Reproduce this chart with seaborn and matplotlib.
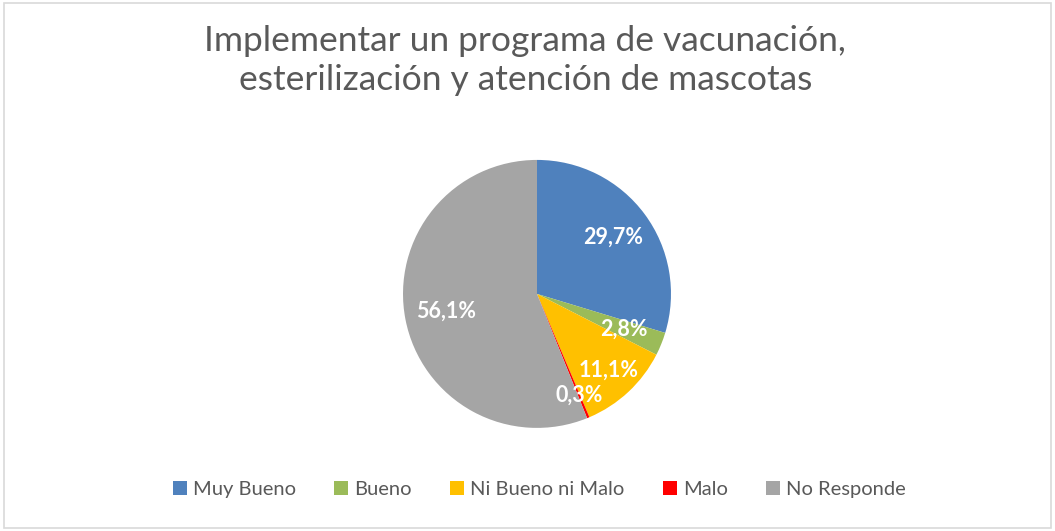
import matplotlib
matplotlib.use("Agg")
import matplotlib.pyplot as plt
import numpy as np
import seaborn as sns
from matplotlib.patches import Rectangle, Patch

categories = ["Muy Bueno", "Bueno", "Ni Bueno ni Malo", "Malo", "No Responde"]
values = [29.7, 2.8, 11.1, 0.3, 56.1]
labels = ["29,7%", "2,8%", "11,1%", "0,3%", "56,1%"]
hex_colors = ["#4F81BD", "#9BBB59", "#FFC000", "#FF0000", "#A5A5A5"]
label_dist = [0.71, 0.70, 0.78, 0.82, 0.69]
title = "Implementar un programa de vacunación,\nesterilización y atención de mascotas"

sns.set_theme(style="white")
plt.rcParams['font.family'] = ['Lato', 'DejaVu Sans']
colors = sns.color_palette(hex_colors)

fig = plt.figure(figsize=(10.55, 5.31), dpi=100)
fig.patch.set_facecolor("white")
fig.patches.append(Rectangle((0.004, 0.006), 0.992, 0.988, transform=fig.transFigure,
                             fill=False, edgecolor="#D9D9D9", linewidth=1.2))

ax = fig.add_axes([0.382, 0.194, 0.254, 0.505])
wedges, _ = ax.pie(values, colors=colors, startangle=90, counterclock=False,
                   radius=1.0, wedgeprops=dict(linewidth=0))
ax.set_xlim(-1, 1)
ax.set_ylim(-1, 1)
ax.set_aspect("equal")
ax.axis("off")

for w, lab, d in zip(wedges, labels, label_dist):
    ang = np.deg2rad((w.theta1 + w.theta2) / 2)
    ax.text(d * np.cos(ang), d * np.sin(ang), lab, ha="center", va="center",
            color="white", fontsize=15.5, fontweight="bold")

fig.text(0.498, 0.886, title, ha="center", va="center", fontsize=25.5,
         color="#595959", linespacing=1.3)

handles = [Patch(facecolor=c, edgecolor="none") for c in colors]
fig.legend(handles, categories, loc="center", bbox_to_anchor=(0.511, 0.079), ncol=5,
           frameon=False, fontsize=14.5, labelcolor="#595959", handlelength=0.7,
           handleheight=0.7, handletextpad=0.3, columnspacing=1.9)

fig.savefig("out.png", dpi=100, facecolor="white")
